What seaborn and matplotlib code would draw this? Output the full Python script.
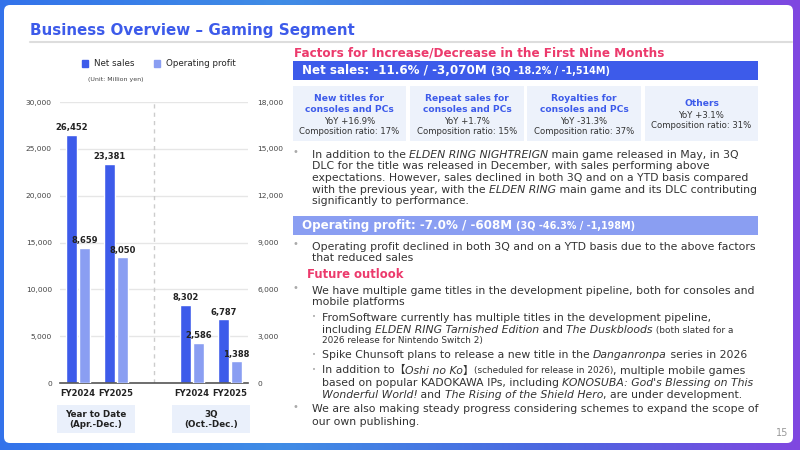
import numpy as np
import pandas as pd
import seaborn as sns
import matplotlib.pyplot as plt
from matplotlib.patches import Patch, FancyBboxPatch, Rectangle
from matplotlib.ticker import FuncFormatter

# Daten
periods = ["YTD FY2024", "YTD FY2025", "3Q FY2024", "3Q FY2025"]
slot_order = ["YTD FY2024", "YTD FY2025", "gap", "3Q FY2024", "3Q FY2025"]
tick_labels = ["FY2024", "FY2025", "FY2024", "FY2025"]
series = ["Net sales", "Operating profit"]
net_sales = [26452, 23381, 8302, 6787]
op_profit = [8659, 8050, 2586, 1388]
group_labels = ["Year to Date\n(Apr.-Dec.)", "3Q\n(Oct.-Dec.)"]

factor_titles = ["New titles for\nconsoles and PCs", "Repeat sales for\nconsoles and PCs",
                 "Royalties for\nconsoles and PCs", "Others"]
factor_yoy = ["+16.9%", "+1.7%", "-31.3%", "+3.1%"]
factor_ratio = ["17%", "15%", "37%", "31%"]

BLUE = "#3D5BEA"
LIGHT = "#8A9EF2"
PINK = "#EC3A6C"
TXT = "#333333"
BOXBG = "#EDF2FB"
BODY = 7.8

sns.set_theme(style="white")
plt.rcParams["font.family"] = ["DejaVu Sans", "Noto Sans CJK JP"]

fig = plt.figure(figsize=(8, 4.5), dpi=100)
T = fig.dpi_scale_trans
renderer = fig.canvas.get_renderer()


def P(x, y):
    # pixel (top-left origin) -> inches
    return x / 100, (450 - y) / 100


# Hintergrund
bg = fig.add_axes([0, 0, 1, 1], zorder=-10)
xs = np.linspace(0, 1, 400)
stops = [0, 0.35, 0.7, 1]
cols = np.array([[0.20, 0.45, 0.92], [0.25, 0.55, 0.90], [0.30, 0.40, 0.88], [0.50, 0.28, 0.88]])
grad = np.stack([np.interp(xs, stops, cols[:, i]) for i in range(3)], axis=-1)
bg.imshow(np.tile(grad, (20, 1, 1)), aspect="auto", extent=[0, 1, 0, 1])
bg.axis("off")

fig.patches.append(FancyBboxPatch(P(4, 443), 7.89, 4.38, boxstyle="round,pad=0,rounding_size=0.06",
                                  transform=T, fc="white", ec="none", zorder=-5))

# Titel
fig.text(*P(30, 30), "Business Overview \u2013 Gaming Segment", transform=T, fontsize=10.9,
         fontweight="bold", color=BLUE, va="center")
fig.add_artist(plt.Line2D([0.30, 7.92], [(450 - 42) / 100] * 2, transform=T, color="#DDDDDD", lw=1.5))

# Diagramm
ax = fig.add_axes([60 / 800, 1 - 383 / 450, 188 / 800, 281 / 450])
ax2 = ax.twinx()
df_net = pd.DataFrame({"slot": periods, "value": net_sales, "series": series[0]})
df_op = pd.DataFrame({"slot": periods, "value": op_profit, "series": series[1]})
opts = dict(x="slot", y="value", hue="series", hue_order=series, order=slot_order, palette=[BLUE, LIGHT],
            width=0.68, gap=0.1, dodge=True, saturation=1, errorbar=None, legend=False)
sns.barplot(data=df_net, ax=ax, **opts)
sns.barplot(data=df_op, ax=ax2, **opts)

ax.set_ylim(0, 30000)
ax2.set_ylim(0, 18000)
ax.set_xlim(-0.47, 4.47)
ax.set_yticks(range(0, 30001, 5000))
ax2.set_yticks(range(0, 18001, 3000))
fmt = FuncFormatter(lambda v, p: f"{v:,.0f}")
ax.yaxis.set_major_formatter(fmt)
ax2.yaxis.set_major_formatter(fmt)
ax.set_xticks([0, 1, 3, 4])
ax.set_xticklabels(tick_labels, fontweight="bold", fontsize=6, color="#222222")
for a in (ax, ax2):
    a.set_xlabel("")
    a.set_ylabel("")
    for s in a.spines.values():
        s.set_visible(False)
    a.tick_params(axis="y", length=0, labelsize=5.4, labelcolor="#444444")
ax.tick_params(axis="y", pad=5.8)
ax2.tick_params(axis="y", pad=6.5)
ax.tick_params(axis="x", length=0, pad=4)
ax.spines["bottom"].set_visible(True)
ax.spines["bottom"].set_color("#555555")
ax.spines["bottom"].set_linewidth(1.2)
ax.yaxis.grid(True, color="#E6E6E6", lw=1)
ax.set_axisbelow(True)
ax.axvline(2, color="#CCCCCC", ls=(0, (3, 3)), lw=1)

for a in (ax, ax2):
    for c in a.containers:
        a.bar_label(c, fmt="{:,.0f}", padding=2, fontsize=6, fontweight="bold", color="#222222")

# Gruppenbeschriftung
for (x0, x1), lab in zip([(57, 135), (172, 250)], group_labels):
    fig.patches.append(Rectangle(P(x0, 432.5), (x1 - x0) / 100, 0.275, transform=T, fc="#EAF0FB", ec="none"))
    fig.text(*P((x0 + x1) / 2, 419.5), lab, transform=T, ha="center", va="center", fontsize=6.3,
             fontweight="bold", color="#222222", linespacing=1.25)

# Legende
fig.legend(handles=[Patch(color=BLUE, label=series[0]), Patch(color=LIGHT, label=series[1])],
           loc="center", bbox_to_anchor=(159 / 800, 1 - 64 / 450), ncol=2, frameon=False, fontsize=6.3,
           handlelength=0.7, handleheight=0.7, handletextpad=0.7, columnspacing=2.2)
fig.text(*P(116, 79), "(Unit: Million yen)", transform=T, ha="center", va="center", fontsize=4.5, color="#444444")


# Text rechts
def text_w(s, **kw):
    t = fig.text(0, 0, s + "|", **kw)
    w1 = t.get_window_extent(renderer).width
    t.remove()
    t = fig.text(0, 0, "|", **kw)
    w2 = t.get_window_extent(renderer).width
    t.remove()
    return w1 - w2


def rich(x, y, segs, size=BODY, color=TXT, small=0.82):
    for s, st in segs:
        kw = dict(fontsize=size * (small if "s" in st else 1.0), color=color,
                  fontstyle="italic" if "i" in st else "normal",
                  fontweight="bold" if "b" in st else "normal")
        fig.text(*P(x, y + 3.5), s, transform=T, va="baseline", ha="left", **kw)
        x += text_w(s, **kw)


def bullet(x, y, small=False):
    fig.text(*P(x, y), "\u2022", transform=T, ha="center", va="center",
             fontsize=5 if small else 7, color="#AAAAAA")


fig.text(*P(294, 52.7), "Factors for Increase/Decrease in the First Nine Months", transform=T,
         fontsize=8.65, fontweight="bold", color=PINK, va="center")

fig.patches.append(Rectangle(P(293, 80), 4.65, 0.19, transform=T, fc=BLUE, ec="none"))
rich(302, 70.5, [("Net sales: -11.6% / -3,070M ", "b"), ("(3Q -18.2% / -1,514M)", "bs")],
     size=8.6, color="white", small=0.81)

for i, (x0, x1) in enumerate([(293, 406), (410, 524), (527, 641), (645, 758)]):
    fig.patches.append(Rectangle(P(x0, 141), (x1 - x0) / 100, 0.553, transform=T, fc=BOXBG, ec="none"))
    cx = (x0 + x1) / 2
    if "\n" in factor_titles[i]:
        yt, yy, yc = 104, 121, 131.5
    else:
        yt, yy, yc = 104, 115, 125.5
    fig.text(*P(cx, yt), factor_titles[i], transform=T, ha="center", va="center", fontsize=6.6,
             fontweight="bold", color=BLUE, linespacing=1.15)
    fig.text(*P(cx, yy), "YoY " + factor_yoy[i], transform=T, ha="center", va="center", fontsize=6.1, color=TXT)
    fig.text(*P(cx, yc), "Composition ratio: " + factor_ratio[i], transform=T, ha="center", va="center",
             fontsize=6.1, color=TXT)

bx, tx, sbx, stx = 295, 311.7, 314, 321.7
bullet(bx, 152)
rich(tx, 154, [("In addition to the ", ""), ("ELDEN RING NIGHTREIGN", "i"), (" main game released in May, in 3Q", "")])
rich(tx, 165.7, [("DLC for the title was released in December, with sales performing above", "")])
rich(tx, 177.3, [("expectations. However, sales declined in both 3Q and on a YTD basis compared", "")])
rich(tx, 189.3, [("with the previous year, with the ", ""), ("ELDEN RING", "i"), (" main game and its DLC contributing", "")])
rich(tx, 201, [("significantly to performance.", "")])

fig.patches.append(Rectangle(P(293, 234.5), 4.65, 0.185, transform=T, fc=LIGHT, ec="none"))
rich(302, 225.5, [("Operating profit: -7.0% / -608M ", "b"), ("(3Q -46.3% / -1,198M)", "bs")],
     size=8.6, color="white", small=0.81)

bullet(bx, 244)
rich(tx, 246, [("Operating profit declined in both 3Q and on a YTD basis due to the above factors", "")])
rich(tx, 257.7, [("that reduced sales", "")])

fig.text(*P(307, 274), "Future outlook", transform=T, fontsize=8.4, fontweight="bold", color=PINK, va="center")

bullet(bx, 288)
rich(tx, 290, [("We have multiple game titles in the development pipeline, both for consoles and", "")])
rich(tx, 301.7, [("mobile platforms", "")])
bullet(sbx, 317.3, small=True)
rich(stx, 317.3, [("FromSoftware currently has multiple titles in the development pipeline,", "")])
rich(stx, 329.3, [("including ", ""), ("ELDEN RING Tarnished Edition", "i"), (" and ", ""), ("The Duskbloods", "i"),
                  (" (both slated for a", "s")])
rich(stx, 340, [("2026 release for Nintendo Switch 2)", "s")])
bullet(sbx, 354.7, small=True)
rich(stx, 354.7, [("Spike Chunsoft plans to release a new title in the ", ""), ("Danganronpa", "i"), (" series in 2026", "")])
bullet(sbx, 370, small=True)
rich(stx, 370, [("In addition to\u3010", ""), ("Oshi no Ko", "i"), ("\u3011", ""),
                ("(scheduled for release in 2026)", "s"), (", multiple mobile games", "")])
rich(stx, 382, [("based on popular KADOKAWA IPs, including ", ""), ("KONOSUBA: God's Blessing on This", "i")])
rich(stx, 394, [("Wonderful World!", "i"), (" and ", ""), ("The Rising of the Shield Hero", "i"),
                (", are under development.", "")])
bullet(bx, 407)
rich(tx, 409, [("We are also making steady progress considering schemes to expand the scope of", "")])
rich(tx, 421.3, [("our own publishing.", "")])

fig.text(*P(782, 432.7), "15", transform=T, ha="center", va="center", fontsize=7, color="#999999")

fig.savefig("out.png", dpi=100)
